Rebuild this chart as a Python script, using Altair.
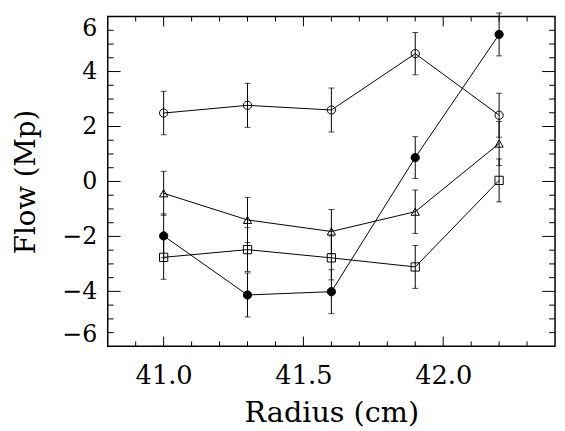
import altair as alt
import pandas as pd

# ---- data ----
radius = [41.0, 41.3, 41.6, 41.9, 42.2]
flow_open_circle = [2.49, 2.77, 2.60, 4.65, 2.41]
flow_filled_circle = [-1.98, -4.13, -4.01, 0.87, 5.35]
flow_triangle = [-0.43, -1.40, -1.82, -1.10, 1.38]
flow_square = [-2.76, -2.48, -2.78, -3.11, 0.04]
err_open_circle = [0.79, 0.80, 0.80, 0.77, 0.80]
err_filled_circle = [0.80, 0.80, 0.80, 0.76, 0.78]
err_triangle = [0.80, 0.82, 0.80, 0.79, 0.80]
err_square = [0.80, 0.80, 0.80, 0.78, 0.78]
series_names = ["open circle", "filled circle", "triangle", "square"]

x_major_ticks = [41.0, 41.5, 42.0]
x_minor_ticks = [40.9, 41.1, 41.2, 41.3, 41.4, 41.6, 41.7, 41.8, 41.9, 42.1, 42.2, 42.3]
y_major_ticks = [-4, -2, 0, 2, 4]
y_minor_ticks = [-5.5, -5, -4.5, -3.5, -3, -2.5, -1.5, -1, -0.5,
                 0.5, 1, 1.5, 2.5, 3, 3.5, 4.5, 5, 5.5]
y_label_values = [-6, -4, -2, 0, 2, 4, 6]

rows = []
for name, flows, errs in zip(series_names,
                             [flow_open_circle, flow_filled_circle, flow_triangle, flow_square],
                             [err_open_circle, err_filled_circle, err_triangle, err_square]):
    for r, f, e in zip(radius, flows, errs):
        rows.append({"series": name, "radius": r, "flow": f, "err": e})
df = pd.DataFrame(rows)

W, H = 453, 334
FONT = "DejaVu Serif"
x_scale = alt.Scale(domain=[40.8, 42.4], nice=False, zero=False)
y_scale = alt.Scale(domain=[-6, 6], nice=False, zero=False)

x_axis = alt.Axis(title="Radius (cm)", values=x_major_ticks, format=".1f",
                  ticks=False, domain=False, grid=False,
                  labelFont=FONT, labelFontSize=26, labelColor="black",
                  labelPadding=17, titleFont=FONT, titleFontSize=29,
                  titleFontWeight="normal", titleColor="black", titlePadding=10)
y_axis = alt.Axis(title="Flow (Mp)", values=y_label_values, format="d",
                  ticks=False, domain=False, grid=False, labelFlush=True,
                  labelFont=FONT, labelFontSize=24, labelColor="black",
                  labelPadding=11, titleFont=FONT, titleFontSize=28,
                  titleFontWeight="normal", titleColor="black", titlePadding=22)


def X(field):
    return alt.X(field, scale=x_scale, axis=x_axis)


def Y(field):
    return alt.Y(field, scale=y_scale, axis=y_axis)


base = alt.Chart(df)

lines = base.mark_line(color="black", strokeWidth=1).encode(
    x=X("radius:Q"), y=Y("flow:Q"), detail="series:N")

err = base.transform_calculate(
    lo="datum.flow - datum.err", hi="datum.flow + datum.err")
err_rules = err.mark_rule(color="black", strokeWidth=1).encode(
    x=X("radius:Q"), y=Y("lo:Q"), y2="hi:Q")
cap_lo = err.mark_tick(color="black", orient="horizontal", size=6, thickness=1).encode(
    x=X("radius:Q"), y=Y("lo:Q"))
cap_hi = err.mark_tick(color="black", orient="horizontal", size=6, thickness=1).encode(
    x=X("radius:Q"), y=Y("hi:Q"))

points = base.mark_point(filled=True, size=70, strokeWidth=1, stroke="black", opacity=1).encode(
    x=X("radius:Q"), y=Y("flow:Q"),
    shape=alt.Shape("series:N", legend=None,
                    scale=alt.Scale(domain=series_names,
                                    range=["circle", "circle", "triangle-up", "square"])),
    fill=alt.Fill("series:N", legend=None,
                  scale=alt.Scale(domain=series_names,
                                  range=["transparent", "black", "transparent", "transparent"])),
)


def xticks(values, length):
    d = alt.Chart(pd.DataFrame({"radius": values}))
    bottom = d.mark_rule(color="black", strokeWidth=1).encode(
        x=X("radius:Q"), y=alt.value(H), y2=alt.value(H - length))
    top = d.mark_rule(color="black", strokeWidth=1).encode(
        x=X("radius:Q"), y=alt.value(0), y2=alt.value(length))
    return [bottom, top]


def yticks(values, length):
    d = alt.Chart(pd.DataFrame({"flow": values}))
    left = d.mark_rule(color="black", strokeWidth=1).encode(
        y=Y("flow:Q"), x=alt.value(0), x2=alt.value(length))
    right = d.mark_rule(color="black", strokeWidth=1).encode(
        y=Y("flow:Q"), x=alt.value(W), x2=alt.value(W - length))
    return [left, right]


tick_layers = xticks(x_major_ticks, 10) + xticks(x_minor_ticks, 5) + \
    yticks(y_major_ticks, 13) + yticks(y_minor_ticks, 6)

chart = alt.layer(lines, err_rules, cap_lo, cap_hi, points, *tick_layers).properties(
    width=W, height=H,
    autosize=alt.AutoSizeParams(type="none"),
    padding={"left": 101, "top": 6, "right": 2, "bottom": 80},
    background="white",
).configure_view(stroke="black", strokeWidth=1.5)

chart.save("out.html", embed_options={"renderer": "svg", "actions": False})
